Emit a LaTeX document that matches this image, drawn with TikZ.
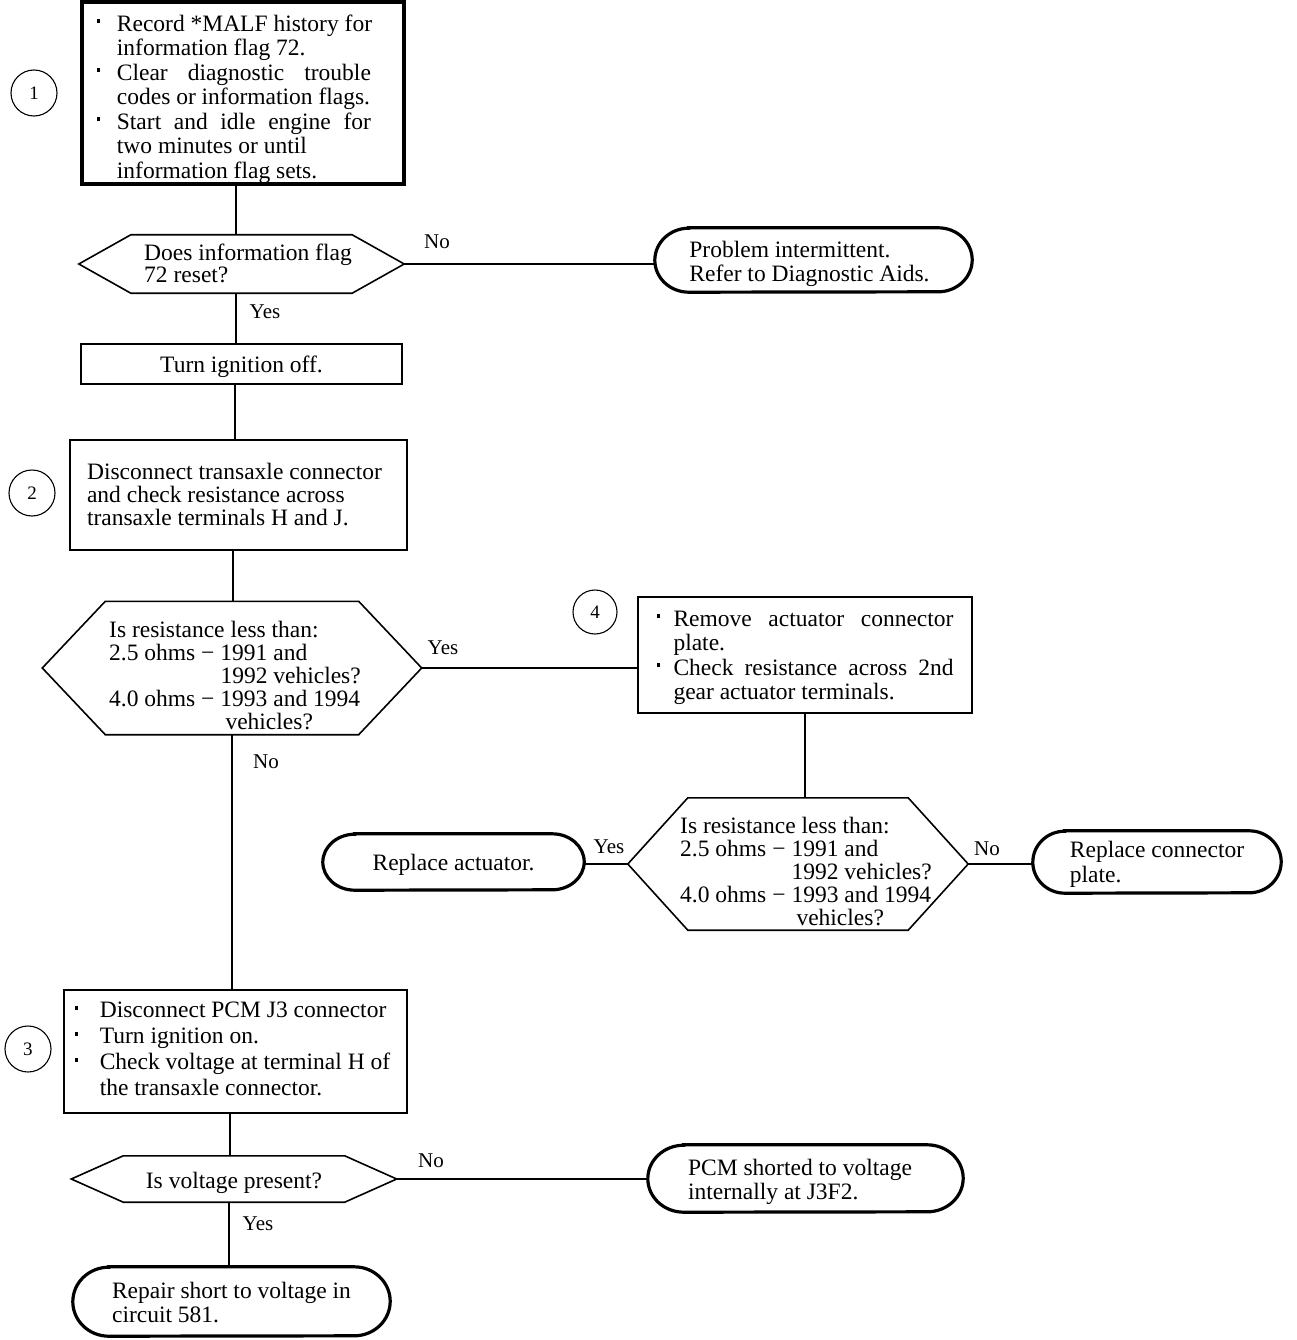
\documentclass[tikz,border=0pt]{standalone}
\usepackage{fontspec}
\setmainfont{Liberation Serif}
\usetikzlibrary{calc}
\newcommand\bul[1][20pt]{\makebox[#1][l]{\raisebox{8pt}{\rule{3.6pt}{4pt}}}}
\newcommand\mv[3]{\hspace*{#1}\raisebox{#2}[\height][\depth]{#3}}
\newcommand\stretchl[2]{\makebox[#1][s]{#2}}
\newcommand\restab{\begin{tabular}{@{}l@{}l@{}}\multicolumn{2}{@{}l@{}}{Is resistance less than:}\\
2.5 ohms −\kern6pt & 1991 and\\
 & 1992 vehicles?\\
4.0 ohms −\kern6pt & 1993 and 1994\\
 & \hspace{5pt}vehicles?\end{tabular}}
\newcommand\hexa[2]{\draw[hexline] (#1.west) -- ([xshift=#2]#1.north west) -- ([xshift=-#2]#1.north east) -- (#1.east) -- ([xshift=-#2]#1.south east) -- ([xshift=#2]#1.south west) -- cycle;}
\newcommand\termp[3]{\draw[termline] ([xshift=#2]#1.north west) -- ([xshift=-#2]#1.north east) arc[start angle=90, end angle=-90, x radius=#2, y radius=#3] -- ([xshift=#2]#1.south west) arc[start angle=270, end angle=90, x radius=#2, y radius=#3] -- cycle;}
\tikzset{
 fnt/.style={font=\fontsize{23.5}{24.5}\selectfont},
 box/.style={draw, line width=2.8pt, inner sep=0pt, fnt},
 term/.style={inner sep=0pt, fnt},
 termline/.style={line width=3.2pt},
 dec/.style={inner sep=0pt, font=\fontsize{23.5}{22.5}\selectfont},
 hexline/.style={line width=1.6pt, line join=miter},
 conn/.style={line width=1.4pt},
 lab/.style={inner sep=0pt, font=\fontsize{21}{21}\selectfont},
 num/.style={draw, circle, line width=1.1pt, minimum size=46pt, inner sep=0pt, font=\fontsize{19}{19}\selectfont},
}
\begin{document}
\begin{tikzpicture}[x=1pt,y=-1pt]
\useasboundingbox[fill=white] (0,0) rectangle (1296,1340);

% step 1
\node[box, line width=3.3pt, minimum width=322pt, minimum height=182pt] (b1) at (243,93)
 {\mv{-17pt}{-7pt}{\begin{tabular}{@{}l@{}l@{}}
 \bul & Record *MALF history for\\
  & information flag 72.\\
 \bul & \stretchl{254pt}{Clear diagnostic trouble}\\
  & codes or information flags.\\
 \bul & \stretchl{254pt}{Start and idle engine for}\\
  & two minutes or until\\
  & information flag sets.
 \end{tabular}}};
\node[num] (c1) at (34,93) {1};

\node[dec, minimum width=325pt, minimum height=58pt] (d1) at (241.5,264)
 {\mv{13pt}{-2.5pt}{\begin{tabular}{@{}l@{}}Does information flag\\72 reset?\end{tabular}}};
\hexa{d1}{52pt}

\node[term, minimum width=317pt, minimum height=64pt] (t1) at (813.5,260)
 {\mv{-8pt}{-4.5pt}{\begin{tabular}{@{}l@{}}Problem intermittent.\\Refer to Diagnostic Aids.\end{tabular}}};
\termp{t1}{34pt}{32pt}

\node[box, line width=2.5pt, minimum width=321pt, minimum height=40pt] (tio) at (241.5,364) {\mv{0pt}{-3pt}{Turn ignition off.}};

% step 2
\node[box, font=\fontsize{23.5}{23}\selectfont, minimum width=337pt, minimum height=110pt] (b2) at (238.5,495)
 {\mv{-8pt}{-3pt}{\begin{tabular}{@{}l@{}}Disconnect transaxle connector\\and check resistance across\\transaxle terminals H and J.\end{tabular}}};
\node[num] (c2) at (32,493) {2};

\node[dec, minimum width=379pt, minimum height=133pt] (d2) at (232,668) {\mv{6pt}{-10.5pt}{\restab}};
\hexa{d2}{63pt}

% step 4
\node[num, minimum size=44pt] (c4) at (595,612) {4};
\node[box, minimum width=334pt, minimum height=116pt] (b4) at (805,655)
 {\mv{0pt}{-3pt}{\begin{tabular}{@{}l@{}l@{}}
 \bul[17pt] & \stretchl{280pt}{Remove actuator connector}\\
  & plate.\\
 \bul[17pt] & \stretchl{280pt}{Check resistance across 2nd}\\
  & gear actuator terminals.
 \end{tabular}}};

\node[dec, minimum width=340pt, minimum height=132pt] (d3) at (798,864) {\mv{16pt}{-11pt}{\restab}};
\hexa{d3}{60pt}

\node[term, minimum width=261pt, minimum height=56pt] (t2) at (453.5,862) {\mv{0pt}{-3pt}{Replace actuator.}};
\termp{t2}{32pt}{28pt}
\node[term, minimum width=248pt, minimum height=62pt] (t3) at (1157,862)
 {\mv{0pt}{-3pt}{\begin{tabular}{@{}l@{}}Replace connector\\plate.\end{tabular}}};
\termp{t3}{32pt}{31pt}

% step 3
\node[box, font=\fontsize{23.5}{26}\selectfont, minimum width=343pt, minimum height=123pt] (b3) at (235.5,1051.5)
 {\mv{-6pt}{0pt}{\begin{tabular}{@{}l@{}l@{}}
 \bul[25pt] & Disconnect PCM J3 connector\\
 \bul[25pt] & Turn ignition on.\\
 \bul[25pt] & Check voltage at terminal H of\\
  & the transaxle connector.
 \end{tabular}}};
\node[num] (c3) at (28,1049) {3};

\node[dec, minimum width=325pt, minimum height=46pt] (d4) at (234,1179) {\mv{0pt}{-4pt}{Is voltage present?}};
\hexa{d4}{52pt}

\node[term, minimum width=315pt, minimum height=67pt] (t4) at (805.5,1178.5)
 {\mv{-11pt}{-4pt}{\begin{tabular}{@{}l@{}}PCM shorted to voltage\\internally at J3F2.\end{tabular}}};
\termp{t4}{36pt}{33.5pt}
\node[term, minimum width=317pt, minimum height=69pt] (t5) at (231.5,1301.5)
 {\mv{0pt}{-4pt}{\begin{tabular}{@{}l@{}}Repair short to voltage in\\circuit 581.\end{tabular}}};
\termp{t5}{36pt}{34.5pt}

% connectors
\draw[conn] ([xshift=-7pt]b1.south) -- ([xshift=-7pt]b1.south |- d1.north);
\draw[conn] ([xshift=-5.5pt]d1.south) -- ([xshift=-5.5pt]d1.south |- tio.north);
\draw[conn] ([xshift=-6.5pt]tio.south) -- ([xshift=-6.5pt]tio.south |- b2.north);
\draw[conn] ([xshift=-5.5pt]b2.south) -- ([xshift=-5.5pt]b2.south |- d2.north);
\draw[conn] (d1.east) -- (d1.east -| t1.west);
\draw[conn] (d2.east) -- (d2.east -| b4.west);
\draw[conn] (b4.south) -- (b4.south |- d3.north);
\draw[conn] (d3.west) -- (d3.west -| t2.east);
\draw[conn] (d3.east) -- (d3.east -| t3.west);
\draw[conn] (d2.south) -- (d2.south |- b3.north);
\draw[conn] ([xshift=-5.5pt]b3.south) -- ([xshift=-5.5pt]b3.south |- d4.north);
\draw[conn] (d4.east) -- (d4.east -| t4.west);
\draw[conn] ([xshift=-5pt]d4.south) -- ([xshift=-5pt]d4.south |- t5.north);

% labels
\node[lab] (l1) at (437,242) {No};
\node[lab] (l2) at (265,312) {Yes};
\node[lab] (l3) at (443,648) {Yes};
\node[lab] (l4) at (266,762) {No};
\node[lab] (l5) at (609,847) {Yes};
\node[lab] (l6) at (987,849) {No};
\node[lab] (l7) at (431,1161) {No};
\node[lab] (l8) at (258,1224) {Yes};
\end{tikzpicture}
\end{document}
